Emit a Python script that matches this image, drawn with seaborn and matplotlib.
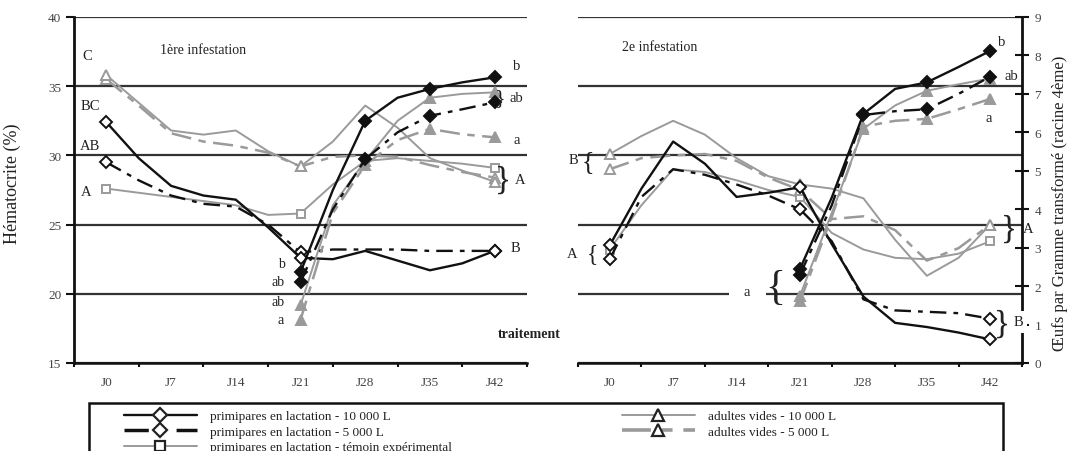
import matplotlib
matplotlib.use("Agg")
import matplotlib.pyplot as plt
from matplotlib.lines import Line2D
from matplotlib.patches import Rectangle
import seaborn as sns

# sampling days (half-week steps) and axis categories
days = [0, 3.5, 7, 10.5, 14, 17.5, 21, 24.5, 28, 31.5, 35, 38.5, 42]
egg_days = [21, 24.5, 28, 31.5, 35, 38.5, 42]
day_ticks = [0, 7, 14, 21, 28, 35, 42]
day_labels = ['J0', 'J7', 'J14', 'J21', 'J28', 'J35', 'J42']

# 1ere infestation - hematocrite (%)
hem1_prim10 = [32.4, 29.8, 27.8, 27.1, 26.8, 24.8, 22.6, 22.5, 23.1, 22.4, 21.7, 22.2, 23.1]
hem1_prim5 = [29.5, 28.2, 27.1, 26.5, 26.3, 25.0, 23.0, 23.2, 23.2, 23.2, 23.1, 23.1, 23.1]
hem1_temoin = [27.6, 27.3, 27.0, 26.7, 26.4, 25.7, 25.8, 27.9, 29.6, 29.8, 29.6, 29.4, 29.1]
hem1_ad10 = [35.8, 33.8, 31.8, 31.5, 31.8, 30.3, 29.2, 31.0, 33.6, 32.0, 29.8, 28.9, 28.1]
hem1_ad5 = [35.5, 33.6, 31.6, 31.0, 30.7, 30.2, 29.2, 29.9, 30.0, 29.9, 29.3, 28.8, 28.4]

# 1ere infestation - oeufs par gramme (racine 4eme)
egg1_prim10 = [2.36, 4.5, 6.3, 6.9, 7.13, 7.3, 7.43]
egg1_prim5 = [2.1, 4.0, 5.3, 6.0, 6.43, 6.6, 6.78]
egg1_ad10 = [1.5, 4.1, 5.26, 6.3, 6.9, 7.0, 7.04]
egg1_ad5 = [1.12, 3.9, 5.15, 5.8, 6.09, 5.95, 5.87]

# 2e infestation - hematocrite (%)
hem2_prim10 = [23.5, 27.6, 31.0, 29.4, 27.0, 27.3, 27.7, 23.6, 19.8, 17.9, 17.6, 17.2, 16.7]
hem2_prim5 = [22.5, 27.0, 29.0, 28.6, 27.9, 27.1, 26.1, 23.8, 19.6, 18.8, 18.7, 18.6, 18.2]
hem2_temoin = [23.2, 26.4, 29.0, 28.8, 28.2, 27.5, 27.0, 24.4, 23.2, 22.6, 22.5, 22.9, 23.8]
hem2_ad10 = [30.1, 31.4, 32.5, 31.5, 29.8, 28.5, 27.9, 27.6, 26.9, 23.9, 21.3, 22.6, 25.0]
hem2_ad5 = [29.0, 29.8, 30.0, 30.1, 29.6, 28.4, 27.5, 25.4, 25.6, 24.6, 22.4, 23.3, 25.0]

# 2e infestation - oeufs par gramme (racine 4eme)
egg2_prim10 = [2.45, 4.3, 6.48, 7.13, 7.3, 7.7, 8.12]
egg2_prim5 = [2.3, 4.1, 6.45, 6.55, 6.6, 7.0, 7.45]
egg2_ad10 = [1.75, 3.9, 6.09, 6.7, 7.08, 7.25, 7.4]
egg2_ad5 = [1.6, 3.8, 6.15, 6.3, 6.35, 6.6, 6.87]

series_names = ['primipares en lactation - 10 000 L',
                'primipares en lactation - 5 000 L',
                'primipares en lactation - témoin expérimental',
                'adultes vides - 10 000 L',
                'adultes vides - 5 000 L']

W, H = 1070, 452
BLACK = '#111111'
GREY = '#9a9a9a'
TXT = '#222222'

sns.set_theme(style='white')
plt.rcParams['font.family'] = ['Liberation Serif', 'DejaVu Serif']
plt.rcParams['axes.axisbelow'] = True


def fx(x):
    return x / W


def fy(y):
    return 1 - y / H


styles = {
    'prim10': dict(color=BLACK, ls='-', lw=1.7, marker='D', ms=6),
    'prim5': dict(color=BLACK, ls=(0, (7, 3, 2, 3)), lw=1.7, marker='D', ms=6),
    'temoin': dict(color=GREY, ls='-', lw=1.4, marker='s', ms=6),
    'ad10': dict(color=GREY, ls='-', lw=1.4, marker='^', ms=7),
    'ad5': dict(color=GREY, ls=(0, (8, 3, 3, 3)), lw=1.8, marker='^', ms=7),
}


def draw(ax, x, y, key, filled, every):
    st = styles[key]
    sns.lineplot(x=x, y=y, ax=ax, color=st['color'], linestyle=st['ls'],
                 linewidth=st['lw'], marker=st['marker'], markersize=st['ms'],
                 markevery=every,
                 markerfacecolor=st['color'] if filled else 'white',
                 markeredgecolor=st['color'], markeredgewidth=1.4,
                 estimator=None, sort=False, legend=False)


fig = plt.figure(figsize=(W / 100, H / 100), dpi=100)
top, bottom = 18, 364
ax1 = fig.add_axes([fx(74), fy(bottom), (527 - 74) / W, (bottom - top) / H])
ax2 = fig.add_axes([fx(578), fy(bottom), (1022 - 578) / W, (bottom - top) / H])
ax1e = ax1.twinx()
ax2e = ax2.twinx()

hem_marks = [0, 6, 12]
egg_marks = [0, 2, 4, 6]

# hematocrite (open markers)
for ax, data in [(ax1, [hem1_prim10, hem1_prim5, hem1_temoin, hem1_ad10, hem1_ad5]),
                 (ax2, [hem2_prim10, hem2_prim5, hem2_temoin, hem2_ad10, hem2_ad5])]:
    for key, vals in zip(['temoin', 'ad5', 'ad10', 'prim5', 'prim10'],
                         [data[2], data[4], data[3], data[1], data[0]]):
        draw(ax, days, vals, key, False, hem_marks)

# oeufs (filled markers)
for ax, data in [(ax1e, [egg1_prim10, egg1_prim5, egg1_ad10, egg1_ad5]),
                 (ax2e, [egg2_prim10, egg2_prim5, egg2_ad10, egg2_ad5])]:
    for key, vals in zip(['ad5', 'ad10', 'prim5', 'prim10'],
                         [data[3], data[2], data[1], data[0]]):
        draw(ax, egg_days, vals, key, True, egg_marks)

bounds = [d - 3.5 for d in day_ticks] + [45.5]
for ax in (ax1, ax2):
    ax.set_xlim(-3.5, 45.5)
    ax.set_ylim(15, 40)
    ax.set_yticks([15, 20, 25, 30, 35, 40])
    ax.set_xticks(day_ticks)
    ax.set_xticklabels(day_labels)
    ax.set_xticks(bounds, minor=True)
    ax.tick_params(axis='x', which='major', length=0, pad=9, labelsize=9.5, labelcolor='#444444')
    ax.tick_params(axis='x', which='minor', length=3, width=1.5, color=BLACK, direction='out', bottom=True)
    ax.yaxis.grid(True, color='#333333', lw=1.6)
    ax.xaxis.grid(False)
    for s in ('top', 'right'):
        ax.spines[s].set_visible(False)
    ax.spines['bottom'].set_color(BLACK)
    ax.spines['bottom'].set_linewidth(1.8)
    ax.set_xlabel('')

ax1.spines['left'].set_color(BLACK)
ax1.spines['left'].set_linewidth(2)
ax1.tick_params(axis='y', length=6, width=1.5, color=BLACK, direction='out', left=True,
                pad=3, labelsize=9.5, labelcolor='#444444')
ax1.set_ylabel('Hématocrite (%)', fontsize=13, color=TXT)
ax1.yaxis.set_label_coords(-0.118, 0.52)

ax2.spines['left'].set_visible(False)
ax2.tick_params(axis='y', length=0, labelleft=False)
ax2.set_ylabel('')

for axe in (ax1e, ax2e):
    axe.set_ylim(0, 9)
    axe.set_xlim(-3.5, 45.5)
    for s in ('top', 'left', 'bottom'):
        axe.spines[s].set_visible(False)
    axe.grid(False)

ax1e.spines['right'].set_visible(False)
ax1e.set_yticks([])
ax1e.set_ylabel('')

ax2e.spines['right'].set_color(BLACK)
ax2e.spines['right'].set_linewidth(2)
ax2e.set_yticks(range(10))
ax2e.tick_params(axis='y', right=True, direction='inout', length=10, width=1.5, color=BLACK,
                 pad=4, labelsize=9.5, labelcolor='#444444')
ax2e.set_ylabel('Œufs par Gramme transformé (racine 4ème)', fontsize=12, color=TXT, rotation=90)
ax2e.yaxis.set_label_coords(1.068, 0.465)

# panel titles and group letters
fig.text(fx(160), fy(50), '1ère infestation', fontsize=10, color=TXT, va='center')
fig.text(fx(622), fy(48), '2e infestation', fontsize=10, color=TXT, va='center')
fig.text(fx(529), fy(334), 'traitement', fontsize=10, fontweight='bold', color=TXT,
         ha='center', va='center')

letters = [
    (87, 56, 'C', 10.5), (90, 107, 'BC', 10.5), (90, 147, 'AB', 10.5), (86, 193, 'A', 10.5),
    (517, 66, 'b', 10.5), (516, 99, 'ab', 10.5), (517, 141, 'a', 10.5), (520, 181, 'A', 10.5),
    (515, 249, 'B', 10.5),
    (281, 264, 'b', 10), (278, 283, 'ab', 10), (278, 303, 'ab', 10), (281, 321, 'a', 10),
    (573, 160, 'B', 10.5), (572, 255, 'A', 10.5),
    (1002, 42, 'b', 10.5), (1011, 77, 'ab', 10.5), (989, 118, 'a', 10.5), (1028, 230, 'A', 10.5),
]
for x, y, t, fs in letters:
    fig.text(fx(x), fy(y), t, fontsize=fs, color=TXT, ha='center', va='center')

braces = [
    (500, 99, '}', 16), (503, 181, '}', 24),
    (588, 162, '{', 19), (592, 255, '{', 17), (775, 289, '{', 30),
    (1009, 230, '}', 24), (1002, 325, '}', 24),
]
for x, y, t, fs in braces:
    fig.text(fx(x), fy(y), t, fontsize=fs, color=TXT, ha='center', va='center',
             fontweight='light')

# labels that interrupt a line
fig.text(fx(747), fy(292), 'a', fontsize=10.5, color=TXT, ha='center', va='center',
         bbox=dict(facecolor='white', edgecolor='none', pad=0),
         zorder=5)
fig.add_artist(Rectangle((fx(729), fy(298)), fx(766) - fx(729), fy(287) - fy(298),
                         transform=fig.transFigure, facecolor='white', edgecolor='none', zorder=4))
fig.text(fx(1018), fy(323), 'B', fontsize=10.5, color=TXT, ha='center', va='center',
         bbox=dict(facecolor='white', edgecolor='none', pad=3), zorder=5)

# legend (two columns, box cut by the bottom edge)
handles = []
for key in ['prim10', 'prim5', 'temoin', 'ad10', 'ad5']:
    st = styles[key]
    handles.append(Line2D([], [], color=st['color'], linestyle=st['ls'],
                          linewidth=st['lw'] + (0.8 if key in ('prim5', 'ad5') else 0),
                          marker=st['marker'], markersize=st['ms'] + 1,
                          markerfacecolor='white', markeredgecolor='#222222',
                          markeredgewidth=1.6))
leg_kw = dict(loc='upper left', frameon=False, borderpad=0, borderaxespad=0,
              fontsize=9.5, handlelength=5.5, handletextpad=1.0, labelspacing=0.25,
              labelcolor=TXT)
fig.legend(handles[:3], series_names[:3], bbox_to_anchor=(fx(124), fy(411)), **leg_kw)
fig.legend(handles[3:], series_names[3:], bbox_to_anchor=(fx(622), fy(411)), **leg_kw)
fig.add_artist(Rectangle((fx(89), fy(480)), fx(1003) - fx(89), fy(404) - fy(480),
                         transform=fig.transFigure, fill=False, edgecolor=BLACK, lw=1.8))

fig.savefig('out.png', dpi=100, facecolor='white')
